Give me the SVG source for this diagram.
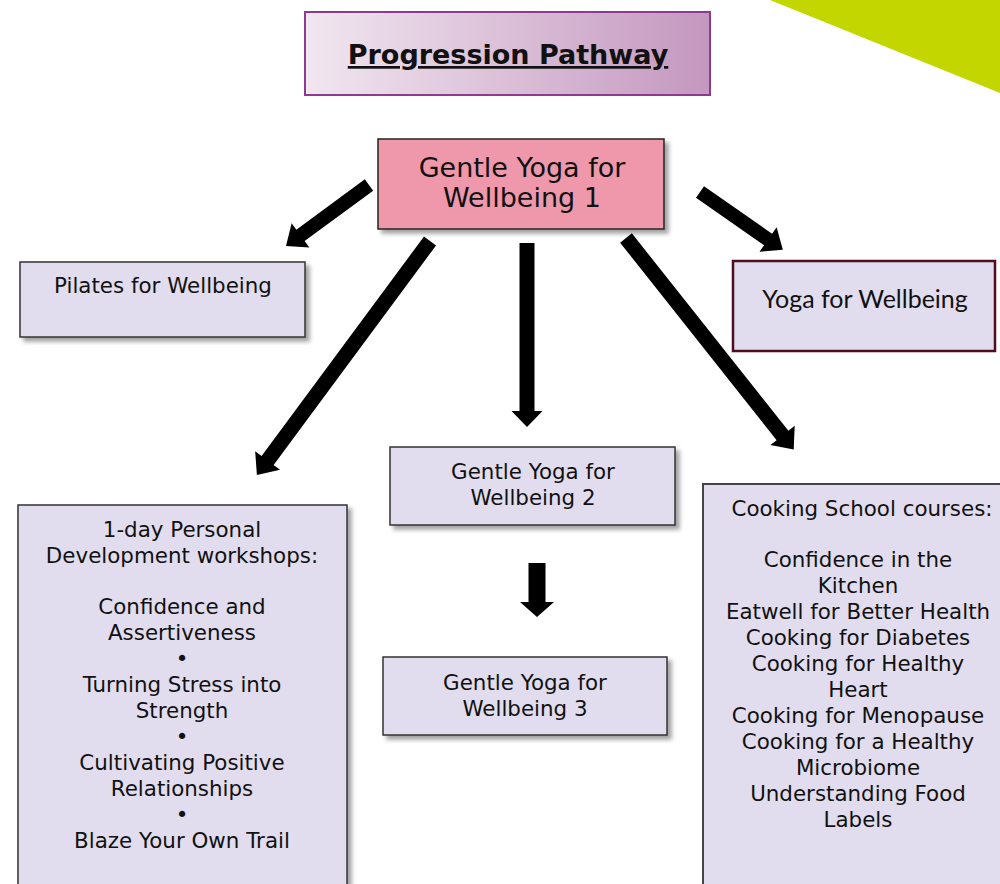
<svg xmlns="http://www.w3.org/2000/svg" width="1000" height="884" viewBox="0 0 1000 884">
<defs>
<linearGradient id="titleGrad" x1="0" y1="0" x2="1" y2="0">
<stop offset="0" stop-color="#f1e7f0"/>
<stop offset="1" stop-color="#c497bf"/>
</linearGradient>
<filter id="shadow" x="-10%" y="-10%" width="130%" height="130%">
<feDropShadow dx="4" dy="4" stdDeviation="2" flood-color="#555" flood-opacity="0.55"/>
</filter>
</defs>
<style>
.box{fill:#e1ddee;stroke:#333;stroke-width:1.5}
.t{font-family:"DejaVu Sans",Verdana,sans-serif;font-size:21.4px;fill:#111;text-anchor:middle}
.arrow{fill:#000}
</style>
<rect width="1000" height="884" fill="#fff"/>
<polygon points="770,0 1000,0 1000,93" fill="#c4d600"/>

<g id="title">
<rect x="305" y="12" width="405" height="83" fill="url(#titleGrad)" stroke="#8e3a8e" stroke-width="2"/>
<text x="508" y="64" font-family="'DejaVu Sans',Tahoma,sans-serif" font-weight="bold" font-size="27" text-anchor="middle" text-decoration="underline" fill="#111">Progression Pathway</text>
</g>

<g id="gy1">
<rect x="378" y="139" width="286" height="90" fill="#ef98ab" stroke="#222" stroke-width="1.5" filter="url(#shadow)"/>
<text x="522" y="177" font-family="'DejaVu Sans',Tahoma,sans-serif" font-size="27" text-anchor="middle" fill="#111">Gentle Yoga for</text>
<text x="522" y="207" font-family="'DejaVu Sans',Tahoma,sans-serif" font-size="27" text-anchor="middle" fill="#111">Wellbeing 1</text>
</g>

<g id="pilates">
<rect class="box" x="20" y="262" width="285" height="75" filter="url(#shadow)"/>
<text class="t" x="163" y="293">Pilates for Wellbeing</text>
</g>

<g id="yoga">
<rect x="733" y="261" width="262" height="90" fill="#e1ddee" stroke="#4d0f1f" stroke-width="2.5"/>
<text x="865" y="308" font-family="Lato,'Gill Sans',sans-serif" font-size="25" text-anchor="middle" fill="#111">Yoga for Wellbeing</text>
</g>

<g id="gy2">
<rect class="box" x="390" y="447" width="285" height="78" filter="url(#shadow)"/>
<text class="t" x="533" y="479">Gentle Yoga for</text>
<text class="t" x="533" y="505">Wellbeing 2</text>
</g>

<g id="gy3">
<rect class="box" x="383" y="657" width="284" height="78" filter="url(#shadow)"/>
<text class="t" x="525" y="690">Gentle Yoga for</text>
<text class="t" x="525" y="716">Wellbeing 3</text>
</g>

<g id="personal">
<rect class="box" x="18" y="505" width="329" height="400" filter="url(#shadow)"/>
<text class="t" x="182" y="537">1-day Personal</text>
<text class="t" x="182" y="563">Development workshops:</text>
<text class="t" x="182" y="614">Confidence and</text>
<text class="t" x="182" y="640">Assertiveness</text>
<text class="t" x="182" y="666">•</text>
<text class="t" x="182" y="692">Turning Stress into</text>
<text class="t" x="182" y="718">Strength</text>
<text class="t" x="182" y="744">•</text>
<text class="t" x="182" y="770">Cultivating Positive</text>
<text class="t" x="182" y="796">Relationships</text>
<text class="t" x="182" y="822">•</text>
<text class="t" x="182" y="848">Blaze Your Own Trail</text>
</g>

<g id="cooking">
<rect x="703" y="484" width="320" height="420" fill="#e1ddee" stroke="#444" stroke-width="2"/>
<text class="t" x="862" y="516">Cooking School courses:</text>
<text class="t" x="858" y="567">Confidence in the</text>
<text class="t" x="858" y="593">Kitchen</text>
<text class="t" x="858" y="619">Eatwell for Better Health</text>
<text class="t" x="858" y="645">Cooking for Diabetes</text>
<text class="t" x="858" y="671">Cooking for Healthy</text>
<text class="t" x="858" y="697">Heart</text>
<text class="t" x="858" y="723">Cooking for Menopause</text>
<text class="t" x="858" y="749">Cooking for a Healthy</text>
<text class="t" x="858" y="775">Microbiome</text>
<text class="t" x="858" y="801">Understanding Food</text>
<text class="t" x="858" y="827">Labels</text>
</g>

<g id="connectors">
<polygon class="arrow" transform="translate(369,185) rotate(143.7)" points="0,-7 85,-7 85,-15 103,0 85,15 85,7 0,7"/>
<polygon class="arrow" transform="translate(430,241) rotate(126.5)" points="0,-7.5 273,-7.5 273,-15.5 291,0 273,15.5 273,7.5 0,7.5"/>
<polygon class="arrow" transform="translate(527,243) rotate(90)" points="0,-7.5 168,-7.5 168,-15.5 184,0 168,15.5 168,7.5 0,7.5"/>
<polygon class="arrow" transform="translate(626,238) rotate(51.6)" points="0,-7.5 252,-7.5 252,-15.5 270,0 252,15.5 252,7.5 0,7.5"/>
<polygon class="arrow" transform="translate(700,192) rotate(34.9)" points="0,-7 83,-7 83,-15 101,0 83,15 83,7 0,7"/>
<polygon class="arrow" transform="translate(537,563) rotate(90)" points="0,-8.5 39,-8.5 39,-17 54,0 39,17 39,8.5 0,8.5"/>
</g>
</svg>
